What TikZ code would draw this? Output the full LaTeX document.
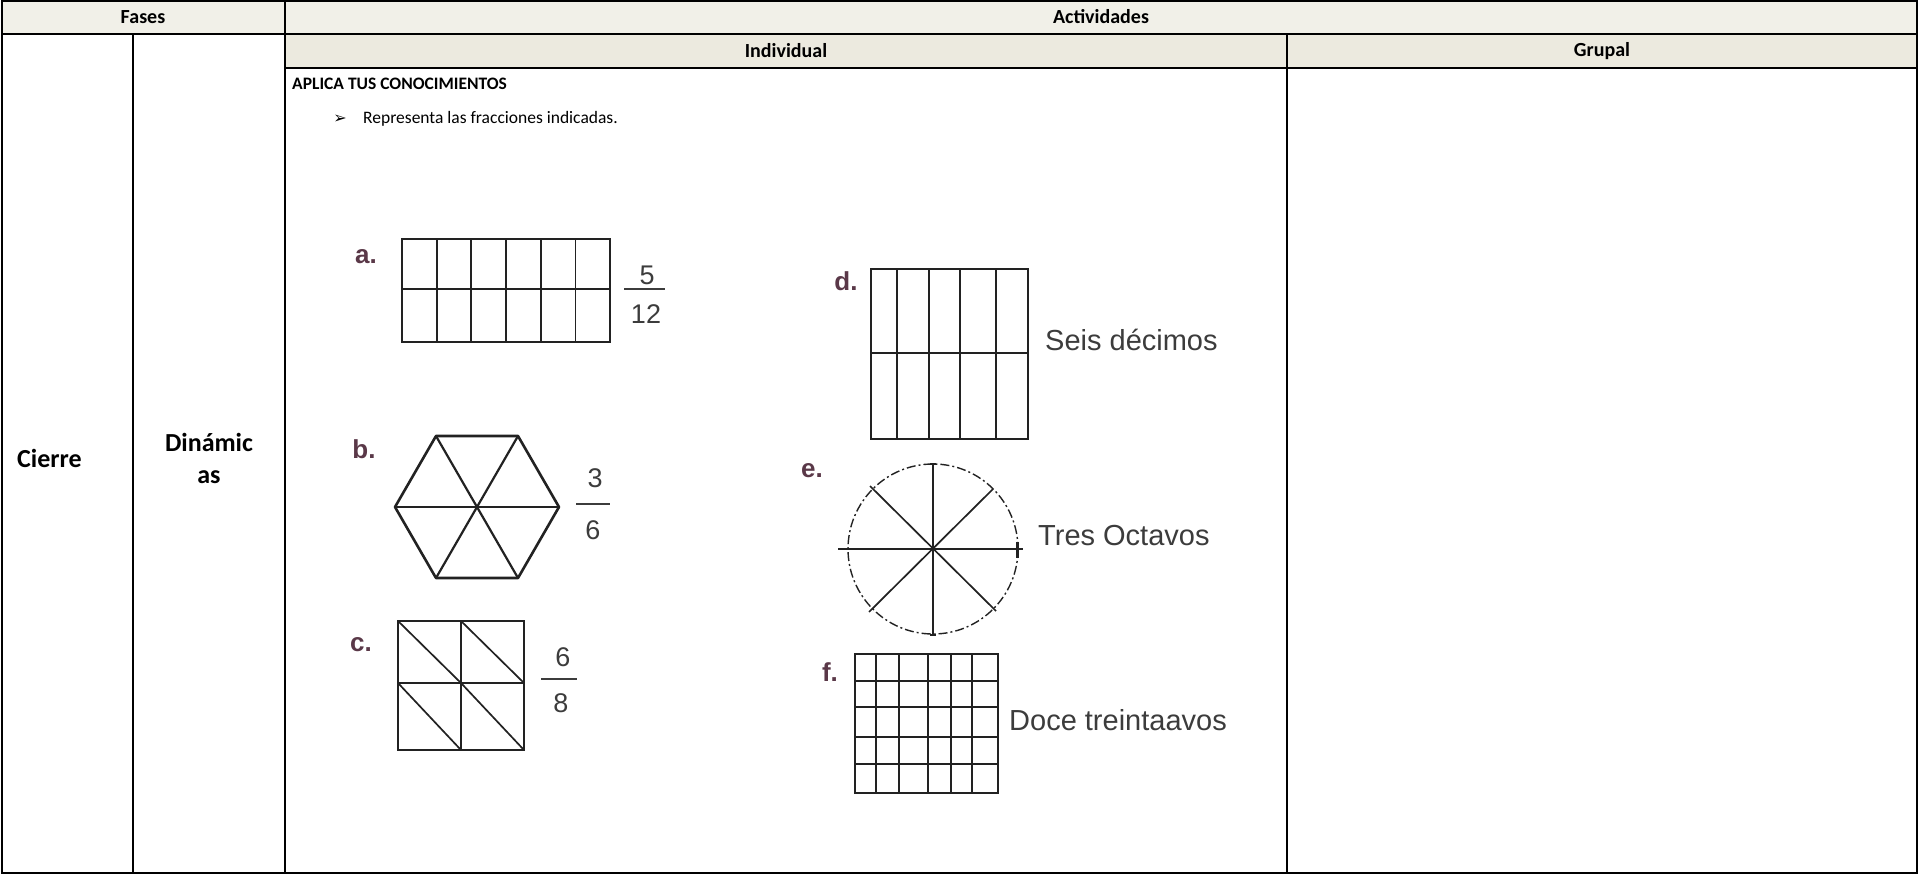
\documentclass[tikz,border=0pt]{standalone}
\usepackage{fontspec}
\setmainfont{Carlito}
\newfontfamily\arialf{Liberation Sans}
\newfontfamily\dejavu{DejaVu Sans}
\definecolor{hdrA}{HTML}{F1F0E8}
\definecolor{hdrB}{HTML}{ECEADF}
\definecolor{labcol}{HTML}{5A3848}
\definecolor{figcol}{HTML}{222222}
\definecolor{txtcol}{HTML}{3C3C3C}
\begin{document}
\begin{tikzpicture}[x=1pt,y=-1pt,
  grid/.style={line width=2pt, draw=black},
  hdr/.style={font=\fontsize{20}{24}\selectfont\bfseries, inner sep=0pt},
  side/.style={font=\fontsize{26}{32}\selectfont\bfseries, inner sep=0pt},
  body/.style={font=\fontsize{17.5}{21}\selectfont, inner sep=0pt, anchor=west},
  figline/.style={line width=1.7pt, draw=figcol},
  lbl/.style={font=\arialf\bfseries\fontsize{26}{28}\selectfont, text=labcol, inner sep=0pt},
  fracnum/.style={font=\arialf\fontsize{27}{29}\selectfont, text=txtcol, inner sep=0pt},
  capt/.style={font=\arialf\fontsize{29}{31}\selectfont, text=txtcol, anchor=west, inner sep=0pt}]
\useasboundingbox (0,0) rectangle (1919,875);
% header fills
\fill[hdrA] (2,1) rectangle (1917,34);
\fill[hdrB] (285,34) rectangle (1917,68);
% table lines
\draw[grid] (2,1) rectangle (1917,873);
\draw[grid] (2,34) -- (1917,34);
\draw[grid] (285,68) -- (1917,68);
\draw[grid] (285,1) -- (285,873);
\draw[grid] (133,34) -- (133,873);
\draw[grid] (1287,34) -- (1287,873);
% header texts
\node[hdr] (fases) at (143,17) {Fases};
\node[hdr] (activ) at (1101,17) {Actividades};
\node[hdr] (indiv) at (786,51) {Individual};
\node[hdr] (grupal) at (1602,51) {Grupal};
\node[side, anchor=west] (cierre) at (17,458) {Cierre};
\node[side, align=center] (dinam) at (209,458) {Dinámic\\as};
\node[font=\fontsize{17.5}{21}\selectfont\bfseries, inner sep=0pt, anchor=west] (aplica) at (292,84) {APLICA TUS CONOCIMIENTOS};
\node[font=\dejavu\fontsize{16}{20}\selectfont, inner sep=0pt] (bullet) at (340,119) {➢};
\node[body] (repr) at (363,119) {Representa las fracciones indicadas.};
% figure a
\draw[figline] (402,239) rectangle (610,342);
\foreach \i in {1,...,5} \draw[figline] ({402+\i*34.67},239) -- ++(0,103);
\draw[figline] (402,289) -- (610,289);
\node[lbl] (la) at (366,257) {a.};
\node[fracnum] (a5) at (647,275) {5};
\draw[line width=2.4pt, draw=txtcol] (624,289) -- (665,289);
\node[fracnum] (a12) at (646,314) {12};
% figure b
\draw[line width=2.6pt, draw=figcol, line join=round] (559,507) -- (518,436) -- (436,436) -- (395,507) -- (436,578) -- (518,578) -- cycle;
\draw[line width=2.2pt, draw=figcol] (395,507) -- (559,507);
\draw[line width=2.2pt, draw=figcol] (436,436) -- (518,578);
\draw[line width=2.2pt, draw=figcol] (518,436) -- (436,578);
\node[lbl] (lb) at (364,449) {b.};
\node[fracnum] (b3) at (595,478) {3};
\draw[line width=2.4pt, draw=txtcol] (576,504) -- (610,504);
\node[fracnum] (b6) at (593,530) {6};
% figure c
\draw[figline] (398,621) rectangle (524,750);
\draw[figline] (461,621) -- (461,750);
\draw[figline] (398,683) -- (524,683);
\draw[figline] (398,621) -- (461,683);
\draw[figline] (461,621) -- (524,683);
\draw[figline] (398,683) -- (461,750);
\draw[figline] (461,683) -- (524,750);
\node[lbl] (lc) at (361,645) {c.};
\node[fracnum] (c6) at (563,657) {6};
\draw[line width=2.4pt, draw=txtcol] (541,679) -- (577,679);
\node[fracnum] (c8) at (561,703) {8};
% figure d
\draw[figline] (871,269) rectangle (1028,439);
\foreach \xx in {897,929,960,996} \draw[figline] (\xx,269) -- (\xx,439);
\draw[figline] (871,353) -- (1028,353);
\node[lbl] (ld) at (846,281) {d.};
\node[capt] (seis) at (1045,340) {Seis décimos};
% figure e
\draw[line width=1.4pt, draw=figcol, dash pattern=on 9pt off 3pt on 2pt off 3pt] (933,549) circle (85);
\draw[figline] (838,549) -- (1023,549);
\draw[line width=3pt, draw=figcol] (1017,542) -- (1017,558);
\draw[figline] (933,464) -- (933,635);
\draw[figline] (930,464) -- (936,464);
\draw[figline] (930,635) -- (936,635);
\draw[figline] (870,486) -- (996,611);
\draw[figline] (993,489) -- (869,612);
\node[lbl] (le) at (812,471) {e.};
\node[capt] (tres) at (1038,536) {Tres Octavos};
% figure f
\draw[figline] (855,654) rectangle (998,793);
\foreach \xx in {875.7,899,927.7,951,971.7} \draw[figline] (\xx,654) -- (\xx,793);
\foreach \yy in {681,707,737,764} \draw[figline] (855,\yy) -- (998,\yy);
\node[lbl] (lf) at (830,672) {f.};
\node[capt] (doce) at (1009,720) {Doce treintaavos};
\end{tikzpicture}
\end{document}
